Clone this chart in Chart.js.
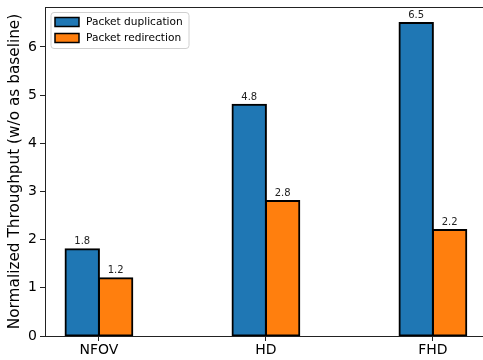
<!DOCTYPE html>
<html>
<head>
<meta charset="utf-8">
<script src="https://cdn.jsdelivr.net/npm/chart.js@4"></script>
<style>
    html, body { margin: 0; padding: 0; background: #fff; }
    #graph { display: block; }
</style>
</head>
<body>
<canvas id="graph" width="483" height="360"></canvas>
<script>
const categories = ["NFOV", "HD", "FHD"];
const duplication = [1.8, 4.8, 6.5];
const redirection = [1.2, 2.8, 2.2];
const yTicks = [0, 1, 2, 3, 4, 5, 6];

const FONT = "'DejaVu Sans', sans-serif";
const BLUE = "#1f77b4";
const ORANGE = "#ff7f0e";

const toPoints = (values) => values.map((v, i) => ({ x: i, y: v }));

// value labels above each bar
const barLabels = {
    id: "barLabels",
    afterDatasetsDraw(chart) {
        const ctx = chart.ctx;
        ctx.save();
        ctx.font = "10px " + FONT;
        ctx.fillStyle = "#222";
        ctx.textAlign = "center";
        ctx.textBaseline = "alphabetic";
        chart.data.datasets.forEach((ds, di) => {
            chart.getDatasetMeta(di).data.forEach((bar, i) => {
                ctx.fillText(ds.data[i].y.toFixed(1), bar.x, bar.y - 5);
            });
        });
        ctx.restore();
    }
};

// top spine + matplotlib style legend inside the axes
const frame = {
    id: "frame",
    afterDraw(chart) {
        const ctx = chart.ctx;
        const area = chart.chartArea;
        ctx.save();
        ctx.strokeStyle = "#222";
        ctx.lineWidth = 1;
        ctx.beginPath();
        ctx.moveTo(area.left, area.top + 0.5);
        ctx.lineTo(area.right, area.top + 0.5);
        ctx.stroke();

        const bx = area.left + 6, by = area.top + 5.5;
        ctx.fillStyle = "rgba(255,255,255,0.8)";
        ctx.strokeStyle = "#d0d0d0";
        ctx.beginPath();
        ctx.roundRect(bx, by, 138, 36, 3);
        ctx.fill();
        ctx.stroke();

        ctx.font = "10.6px " + FONT;
        ctx.textBaseline = "middle";
        ctx.textAlign = "left";
        chart.data.datasets.forEach((ds, i) => {
            const ry = by + 5 + i * 16;
            ctx.fillStyle = ds.backgroundColor;
            ctx.fillRect(bx + 4, ry, 24, 9);
            ctx.strokeStyle = "#000";
            ctx.lineWidth = 1.5;
            ctx.strokeRect(bx + 4, ry, 24, 9);
            ctx.fillStyle = "#000";
            ctx.fillText(ds.label, bx + 35, ry + 4.5);
        });
        ctx.restore();
    }
};

const barStyle = {
    borderColor: "#000",
    borderWidth: 2,
    borderSkipped: false,
    inflateAmount: 1,
    categoryPercentage: 0.4,
    barPercentage: 1.0
};

const config = {
    type: "bar",
    data: {
        datasets: [
            Object.assign({
                label: "Packet duplication",
                data: toPoints(duplication),
                backgroundColor: BLUE
            }, barStyle),
            Object.assign({
                label: "Packet redirection",
                data: toPoints(redirection),
                backgroundColor: ORANGE
            }, barStyle)
        ]
    },
    options: {
        responsive: false,
        animation: false,
        devicePixelRatio: 1,
        layout: { padding: { top: 7, right: 0, left: 0, bottom: 0 } },
        plugins: {
            legend: { display: false },
            tooltip: { enabled: false }
        },
        scales: {
            x: {
                type: "linear",
                offset: false,
                min: -0.323,
                max: 2.3,
                afterBuildTicks: (scale) => {
                    scale.ticks = categories.map((c, i) => ({ value: i }));
                },
                afterFit: (scale) => {
                    scale.height = 24;
                    scale.paddingLeft = 0;
                    scale.paddingRight = 0;
                },
                grid: {
                    offset: false,
                    drawOnChartArea: false,
                    tickLength: 5,
                    color: "#222"
                },
                border: { display: true, color: "#222", width: 1 },
                ticks: {
                    padding: 1,
                    color: "#000",
                    font: { family: FONT, size: 14 },
                    callback: (value) => categories[value]
                }
            },
            y: {
                min: 0,
                max: 6.83,
                afterBuildTicks: (scale) => {
                    scale.ticks = yTicks.map((v) => ({ value: v }));
                },
                afterFit: (scale) => {
                    scale.width = 45;
                    scale.paddingTop = 0;
                    scale.paddingBottom = 0;
                },
                grid: {
                    drawOnChartArea: false,
                    tickLength: 5,
                    color: "#222"
                },
                border: { display: true, color: "#222", width: 1 },
                ticks: {
                    padding: 3,
                    color: "#000",
                    font: { family: FONT, size: 14 }
                },
                title: {
                    display: true,
                    text: "Normalized Throughput (w/o as baseline)",
                    color: "#000",
                    font: { family: FONT, size: 15.3 },
                    padding: { top: 6, bottom: 0 }
                }
            }
        }
    },
    plugins: [barLabels, frame]
};

const graph = new Chart(document.querySelector("#graph"), config);
</script>
</body>
</html>
